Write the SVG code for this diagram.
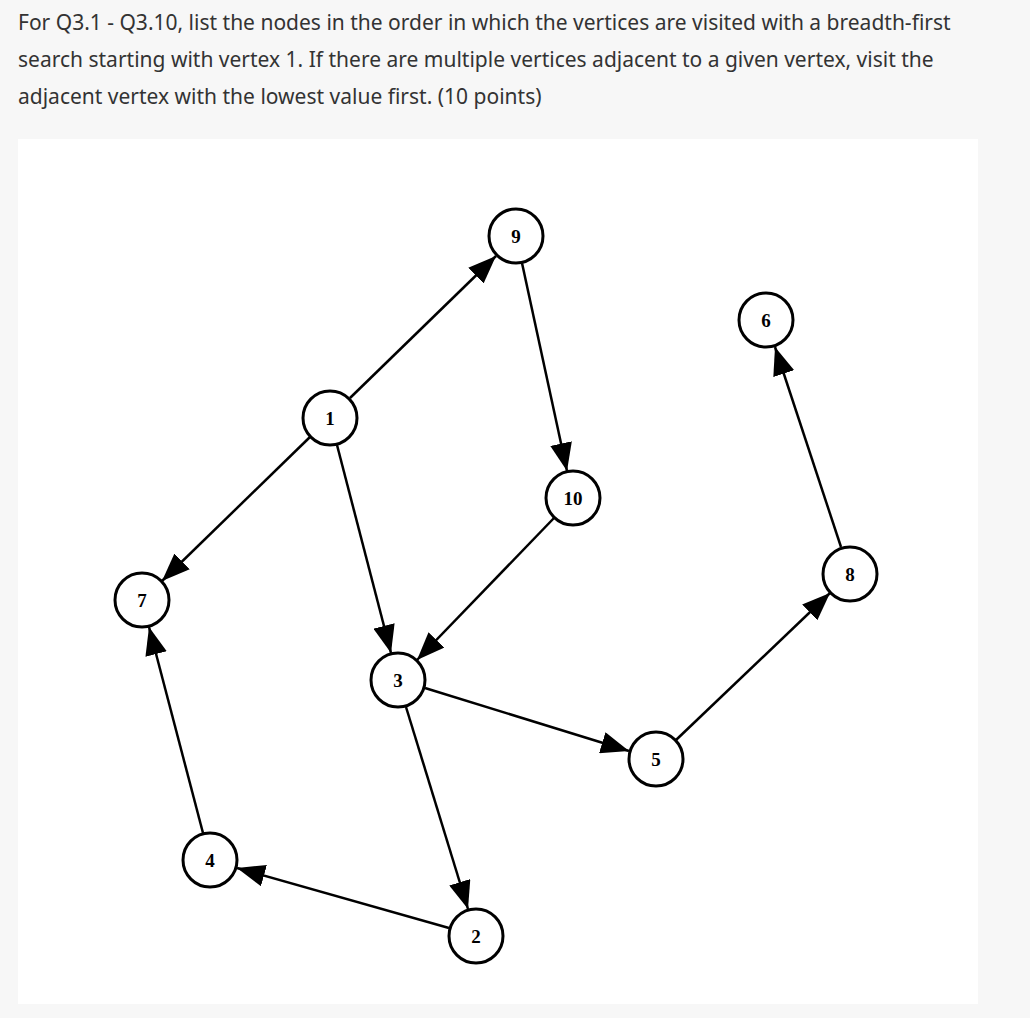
<svg xmlns="http://www.w3.org/2000/svg" width="1030" height="1018" viewBox="0 0 1030 1018">
<style>
.q{font-family:"Noto Sans","Open Sans",sans-serif;font-size:21px;fill:#333}
.n circle{fill:#fff;stroke:#000;stroke-width:3}
.n text{font-family:"Liberation Serif",serif;font-weight:bold;font-size:19px;text-anchor:middle;dominant-baseline:central}
.e line{stroke:#000;stroke-width:2.5}
</style>
<defs><marker id="a" markerUnits="userSpaceOnUse" markerWidth="28" markerHeight="22" refX="28" refY="11" orient="auto"><path d="M0,0 L28,11 L0,22 z"/></marker></defs>
<rect width="1030" height="1018" fill="#f7f7f7"/>
<rect x="18" y="139" width="960" height="865" fill="#fff"/>
<text class="q" x="18" y="30">For Q3.1 - Q3.10, list the nodes in the order in which the vertices are visited with a breadth-first</text>
<text class="q" x="18" y="67">search starting with vertex 1. If there are multiple vertices adjacent to a given vertex, visit the</text>
<text class="q" x="18" y="104">adjacent vertex with the lowest value first. (10 points)</text>
<g class="e">
<line x1="350" y1="398" x2="496" y2="256" marker-end="url(#a)"/>
<line x1="522" y1="263" x2="567" y2="471" marker-end="url(#a)"/>
<line x1="310" y1="437" x2="162" y2="581" marker-end="url(#a)"/>
<line x1="337" y1="445" x2="391" y2="653" marker-end="url(#a)"/>
<line x1="554" y1="518" x2="417" y2="660" marker-end="url(#a)"/>
<line x1="425" y1="688" x2="629" y2="751" marker-end="url(#a)"/>
<line x1="406" y1="707" x2="468" y2="909" marker-end="url(#a)"/>
<line x1="676" y1="740" x2="830" y2="593" marker-end="url(#a)"/>
<line x1="841" y1="547" x2="775" y2="347" marker-end="url(#a)"/>
<line x1="203" y1="833" x2="149" y2="627" marker-end="url(#a)"/>
<line x1="449" y1="928" x2="237" y2="868" marker-end="url(#a)"/>
</g>
<g id="n9" class="n"><circle cx="516" cy="236" r="27"/><text x="516" y="236">9</text></g>
<g id="n6" class="n"><circle cx="766" cy="320" r="27"/><text x="766" y="320">6</text></g>
<g id="n1" class="n"><circle cx="330" cy="418" r="27"/><text x="330" y="418">1</text></g>
<g id="n10" class="n"><circle cx="573" cy="498" r="27"/><text x="573" y="498">10</text></g>
<g id="n8" class="n"><circle cx="850" cy="574" r="27"/><text x="850" y="574">8</text></g>
<g id="n7" class="n"><circle cx="142" cy="600" r="27"/><text x="142" y="600">7</text></g>
<g id="n3" class="n"><circle cx="398" cy="680" r="27"/><text x="398" y="680">3</text></g>
<g id="n5" class="n"><circle cx="656" cy="759" r="27"/><text x="656" y="759">5</text></g>
<g id="n4" class="n"><circle cx="210" cy="860" r="27"/><text x="210" y="860">4</text></g>
<g id="n2" class="n"><circle cx="476" cy="936" r="27"/><text x="476" y="936">2</text></g>
</svg>
